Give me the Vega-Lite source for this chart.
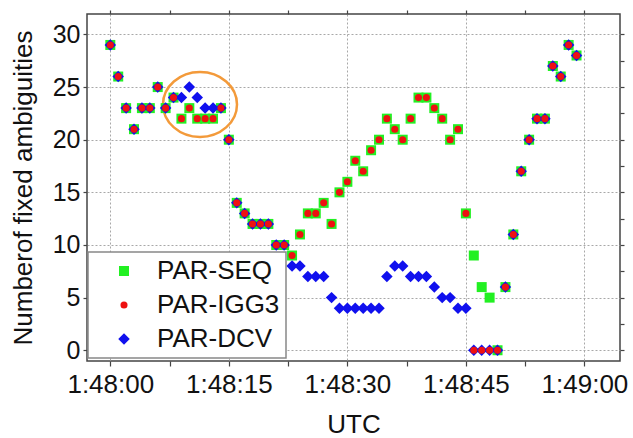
{
  "$schema": "https://vega.github.io/schema/vega-lite/v6.json",
  "width": 533,
  "height": 347,
  "autosize": {"type": "none"},
  "padding": {"left": 87, "top": 14, "right": 13, "bottom": 77},
  "background": "white",
  "config": {
    "view": {"stroke": "#444444", "strokeWidth": 1.5},
    "font": "Liberation Sans",
    "axis": {
      "labelFont": "Liberation Sans",
      "titleFont": "Liberation Sans",
      "labelColor": "#111111",
      "titleColor": "#111111",
      "titleFontWeight": "normal",
      "tickColor": "#444444",
      "tickWidth": 1.2,
      "domain": false,
      "gridColor": "#a8a8a8",
      "gridDash": [2, 2],
      "gridWidth": 1
    },
    "legend": {
      "orient": "none",
      "legendX": 1,
      "legendY": 238,
      "padding": 6,
      "strokeColor": "#888888",
      "strokeWidth": 1.5,
      "fillColor": "white",
      "labelFont": "Liberation Sans",
      "labelFontSize": 26,
      "labelColor": "#111111",
      "symbolOffset": 17,
      "labelOffset": 20,
      "rowPadding": 8,
      "symbolStrokeWidth": 0
    }
  },
  "resolve": {"axis": {"x": "independent", "y": "independent"}},
  "layer": [
    {
      "data": {"values": [{"t": 11.35, "v": 23.35}]},
      "mark": {
        "type": "point",
        "shape": "M -1 0 A 1 0.878 0 1 1 1 0 A 1 0.878 0 1 1 -1 0 Z",
        "size": 5476,
        "filled": false,
        "stroke": "#F39A3A",
        "strokeWidth": 2.5,
        "opacity": 1
      },
      "encoding": {
        "x": {
          "field": "t", "type": "quantitative",
          "scale": {"domain": [-2.95, 64.5], "nice": false, "zero": false},
          "axis": {"orient": "top", "values": [0, 7.5, 15, 22.5, 30, 37.5, 45, 52.5, 60], "labels": false, "grid": false, "tickSize": 4, "title": null}
        },
        "y": {
          "field": "v", "type": "quantitative",
          "scale": {"domain": [-1.02, 31.94], "nice": false, "zero": false},
          "axis": {"orient": "right", "values": [0, 2.5, 5, 7.5, 10, 12.5, 15, 17.5, 20, 22.5, 25, 27.5, 30], "labels": false, "grid": false, "tickSize": 4, "title": null}
        }
      }
    },
    {
      "data": {"values": [
        {"t":0,"s":"PAR-SEQ","v":29},{"t":1,"s":"PAR-SEQ","v":26},{"t":2,"s":"PAR-SEQ","v":23},{"t":3,"s":"PAR-SEQ","v":21},{"t":4,"s":"PAR-SEQ","v":23},{"t":5,"s":"PAR-SEQ","v":23},{"t":6,"s":"PAR-SEQ","v":25},{"t":7,"s":"PAR-SEQ","v":23},{"t":8,"s":"PAR-SEQ","v":24},{"t":9,"s":"PAR-SEQ","v":22},
        {"t":10,"s":"PAR-SEQ","v":23},{"t":11,"s":"PAR-SEQ","v":22},{"t":12,"s":"PAR-SEQ","v":22},{"t":13,"s":"PAR-SEQ","v":22},{"t":14,"s":"PAR-SEQ","v":23},{"t":15,"s":"PAR-SEQ","v":20},{"t":16,"s":"PAR-SEQ","v":14},{"t":17,"s":"PAR-SEQ","v":13},{"t":18,"s":"PAR-SEQ","v":12},{"t":19,"s":"PAR-SEQ","v":12},
        {"t":20,"s":"PAR-SEQ","v":12},{"t":21,"s":"PAR-SEQ","v":10},{"t":22,"s":"PAR-SEQ","v":10},{"t":23,"s":"PAR-SEQ","v":9},{"t":24,"s":"PAR-SEQ","v":11},{"t":25,"s":"PAR-SEQ","v":13},{"t":26,"s":"PAR-SEQ","v":13},{"t":27,"s":"PAR-SEQ","v":14},{"t":28,"s":"PAR-SEQ","v":12},{"t":29,"s":"PAR-SEQ","v":15},
        {"t":30,"s":"PAR-SEQ","v":16},{"t":31,"s":"PAR-SEQ","v":18},{"t":32,"s":"PAR-SEQ","v":17},{"t":33,"s":"PAR-SEQ","v":19},{"t":34,"s":"PAR-SEQ","v":20},{"t":35,"s":"PAR-SEQ","v":22},{"t":36,"s":"PAR-SEQ","v":21},{"t":37,"s":"PAR-SEQ","v":20},{"t":38,"s":"PAR-SEQ","v":22},{"t":39,"s":"PAR-SEQ","v":24},
        {"t":40,"s":"PAR-SEQ","v":24},{"t":41,"s":"PAR-SEQ","v":23},{"t":42,"s":"PAR-SEQ","v":22},{"t":43,"s":"PAR-SEQ","v":20},{"t":44,"s":"PAR-SEQ","v":21},{"t":45,"s":"PAR-SEQ","v":13},{"t":46,"s":"PAR-SEQ","v":9},{"t":47,"s":"PAR-SEQ","v":6},{"t":48,"s":"PAR-SEQ","v":5},{"t":49,"s":"PAR-SEQ","v":0},
        {"t":50,"s":"PAR-SEQ","v":6},{"t":51,"s":"PAR-SEQ","v":11},{"t":52,"s":"PAR-SEQ","v":17},{"t":53,"s":"PAR-SEQ","v":20},{"t":54,"s":"PAR-SEQ","v":22},{"t":55,"s":"PAR-SEQ","v":22},{"t":56,"s":"PAR-SEQ","v":27},{"t":57,"s":"PAR-SEQ","v":26},{"t":58,"s":"PAR-SEQ","v":29},{"t":59,"s":"PAR-SEQ","v":28},

        {"t":0,"s":"PAR-DCV","v":29},{"t":1,"s":"PAR-DCV","v":26},{"t":2,"s":"PAR-DCV","v":23},{"t":3,"s":"PAR-DCV","v":21},{"t":4,"s":"PAR-DCV","v":23},{"t":5,"s":"PAR-DCV","v":23},{"t":6,"s":"PAR-DCV","v":25},{"t":7,"s":"PAR-DCV","v":23},{"t":8,"s":"PAR-DCV","v":24},{"t":9,"s":"PAR-DCV","v":24},
        {"t":10,"s":"PAR-DCV","v":25},{"t":11,"s":"PAR-DCV","v":24},{"t":12,"s":"PAR-DCV","v":23},{"t":13,"s":"PAR-DCV","v":23},{"t":14,"s":"PAR-DCV","v":23},{"t":15,"s":"PAR-DCV","v":20},{"t":16,"s":"PAR-DCV","v":14},{"t":17,"s":"PAR-DCV","v":13},{"t":18,"s":"PAR-DCV","v":12},{"t":19,"s":"PAR-DCV","v":12},
        {"t":20,"s":"PAR-DCV","v":12},{"t":21,"s":"PAR-DCV","v":10},{"t":22,"s":"PAR-DCV","v":10},{"t":23,"s":"PAR-DCV","v":8},{"t":24,"s":"PAR-DCV","v":8},{"t":25,"s":"PAR-DCV","v":7},{"t":26,"s":"PAR-DCV","v":7},{"t":27,"s":"PAR-DCV","v":7},{"t":28,"s":"PAR-DCV","v":5},{"t":29,"s":"PAR-DCV","v":4},
        {"t":30,"s":"PAR-DCV","v":4},{"t":31,"s":"PAR-DCV","v":4},{"t":32,"s":"PAR-DCV","v":4},{"t":33,"s":"PAR-DCV","v":4},{"t":34,"s":"PAR-DCV","v":4},{"t":35,"s":"PAR-DCV","v":7},{"t":36,"s":"PAR-DCV","v":8},{"t":37,"s":"PAR-DCV","v":8},{"t":38,"s":"PAR-DCV","v":7},{"t":39,"s":"PAR-DCV","v":7},
        {"t":40,"s":"PAR-DCV","v":7},{"t":41,"s":"PAR-DCV","v":6},{"t":42,"s":"PAR-DCV","v":5},{"t":43,"s":"PAR-DCV","v":5},{"t":44,"s":"PAR-DCV","v":4},{"t":45,"s":"PAR-DCV","v":4},{"t":46,"s":"PAR-DCV","v":0},{"t":47,"s":"PAR-DCV","v":0},{"t":48,"s":"PAR-DCV","v":0},{"t":49,"s":"PAR-DCV","v":0},
        {"t":50,"s":"PAR-DCV","v":6},{"t":51,"s":"PAR-DCV","v":11},{"t":52,"s":"PAR-DCV","v":17},{"t":53,"s":"PAR-DCV","v":20},{"t":54,"s":"PAR-DCV","v":22},{"t":55,"s":"PAR-DCV","v":22},{"t":56,"s":"PAR-DCV","v":27},{"t":57,"s":"PAR-DCV","v":26},{"t":58,"s":"PAR-DCV","v":29},{"t":59,"s":"PAR-DCV","v":28},

        {"t":0,"s":"PAR-IGG3","v":29},{"t":1,"s":"PAR-IGG3","v":26},{"t":2,"s":"PAR-IGG3","v":23},{"t":3,"s":"PAR-IGG3","v":21},{"t":4,"s":"PAR-IGG3","v":23},{"t":5,"s":"PAR-IGG3","v":23},{"t":6,"s":"PAR-IGG3","v":25},{"t":7,"s":"PAR-IGG3","v":23},{"t":8,"s":"PAR-IGG3","v":24},{"t":9,"s":"PAR-IGG3","v":22},
        {"t":10,"s":"PAR-IGG3","v":23},{"t":11,"s":"PAR-IGG3","v":22},{"t":12,"s":"PAR-IGG3","v":22},{"t":13,"s":"PAR-IGG3","v":22},{"t":14,"s":"PAR-IGG3","v":23},{"t":15,"s":"PAR-IGG3","v":20},{"t":16,"s":"PAR-IGG3","v":14},{"t":17,"s":"PAR-IGG3","v":13},{"t":18,"s":"PAR-IGG3","v":12},{"t":19,"s":"PAR-IGG3","v":12},
        {"t":20,"s":"PAR-IGG3","v":12},{"t":21,"s":"PAR-IGG3","v":10},{"t":22,"s":"PAR-IGG3","v":10},{"t":23,"s":"PAR-IGG3","v":9},{"t":24,"s":"PAR-IGG3","v":11},{"t":25,"s":"PAR-IGG3","v":13},{"t":26,"s":"PAR-IGG3","v":13},{"t":27,"s":"PAR-IGG3","v":14},{"t":28,"s":"PAR-IGG3","v":12},{"t":29,"s":"PAR-IGG3","v":15},
        {"t":30,"s":"PAR-IGG3","v":16},{"t":31,"s":"PAR-IGG3","v":18},{"t":32,"s":"PAR-IGG3","v":17},{"t":33,"s":"PAR-IGG3","v":19},{"t":34,"s":"PAR-IGG3","v":20},{"t":35,"s":"PAR-IGG3","v":22},{"t":36,"s":"PAR-IGG3","v":21},{"t":37,"s":"PAR-IGG3","v":20},{"t":38,"s":"PAR-IGG3","v":22},{"t":39,"s":"PAR-IGG3","v":24},
        {"t":40,"s":"PAR-IGG3","v":24},{"t":41,"s":"PAR-IGG3","v":23},{"t":42,"s":"PAR-IGG3","v":22},{"t":43,"s":"PAR-IGG3","v":20},{"t":44,"s":"PAR-IGG3","v":21},{"t":45,"s":"PAR-IGG3","v":13},{"t":46,"s":"PAR-IGG3","v":0},{"t":47,"s":"PAR-IGG3","v":0},{"t":48,"s":"PAR-IGG3","v":0},{"t":49,"s":"PAR-IGG3","v":0},
        {"t":50,"s":"PAR-IGG3","v":6},{"t":51,"s":"PAR-IGG3","v":11},{"t":52,"s":"PAR-IGG3","v":17},{"t":53,"s":"PAR-IGG3","v":20},{"t":54,"s":"PAR-IGG3","v":22},{"t":55,"s":"PAR-IGG3","v":22},{"t":56,"s":"PAR-IGG3","v":27},{"t":57,"s":"PAR-IGG3","v":26},{"t":58,"s":"PAR-IGG3","v":29},{"t":59,"s":"PAR-IGG3","v":28}
      ]},
      "mark": {"type": "point", "filled": true, "opacity": 1, "strokeWidth": 0},
      "encoding": {
        "x": {
          "field": "t", "type": "quantitative",
          "scale": {"domain": [-2.95, 64.5], "nice": false, "zero": false},
          "axis": {
            "orient": "bottom",
            "title": "UTC",
            "titleFontSize": 26,
            "titlePadding": 14,
            "values": [0, 7.5, 15, 22.5, 30, 37.5, 45, 52.5, 60],
            "labelExpr": "datum.value % 15 != 0 ? '' : (datum.value == 60 ? '1:49:00' : '1:48:' + (datum.value < 10 ? '0' : '') + datum.value)",
            "labelFontSize": 26,
            "labelPadding": 5,
            "labelFlush": false,
            "labelOverlap": false,
            "tickSize": 5,
            "grid": true,
            "gridOpacity": {"condition": {"test": "datum.value % 15 === 0", "value": 1}, "value": 0}
          }
        },
        "y": {
          "field": "v", "type": "quantitative",
          "scale": {"domain": [-1.02, 31.94], "nice": false, "zero": false},
          "axis": {
            "orient": "left",
            "title": "Numberof fixed ambiguities",
            "titleFontSize": 26,
            "titlePadding": 16,
            "values": [0, 5, 10, 15, 20, 25, 30],
            "labelFontSize": 25,
            "labelPadding": 3,
            "tickSize": 4,
            "grid": true
          }
        },
        "color": {
          "field": "s", "type": "nominal",
          "scale": {"domain": ["PAR-SEQ", "PAR-IGG3", "PAR-DCV"], "range": ["#22f022", "#ee1111", "#1010ee"]},
          "legend": {"title": null}
        },
        "shape": {
          "field": "s", "type": "nominal",
          "scale": {"domain": ["PAR-SEQ", "PAR-IGG3", "PAR-DCV"], "range": ["square", "circle", "diamond"]},
          "legend": {"title": null}
        },
        "size": {
          "field": "s", "type": "nominal",
          "scale": {"type": "ordinal", "domain": ["PAR-SEQ", "PAR-IGG3", "PAR-DCV"], "range": [100, 50, 132]},
          "legend": {"title": null}
        }
      }
    }
  ]
}
